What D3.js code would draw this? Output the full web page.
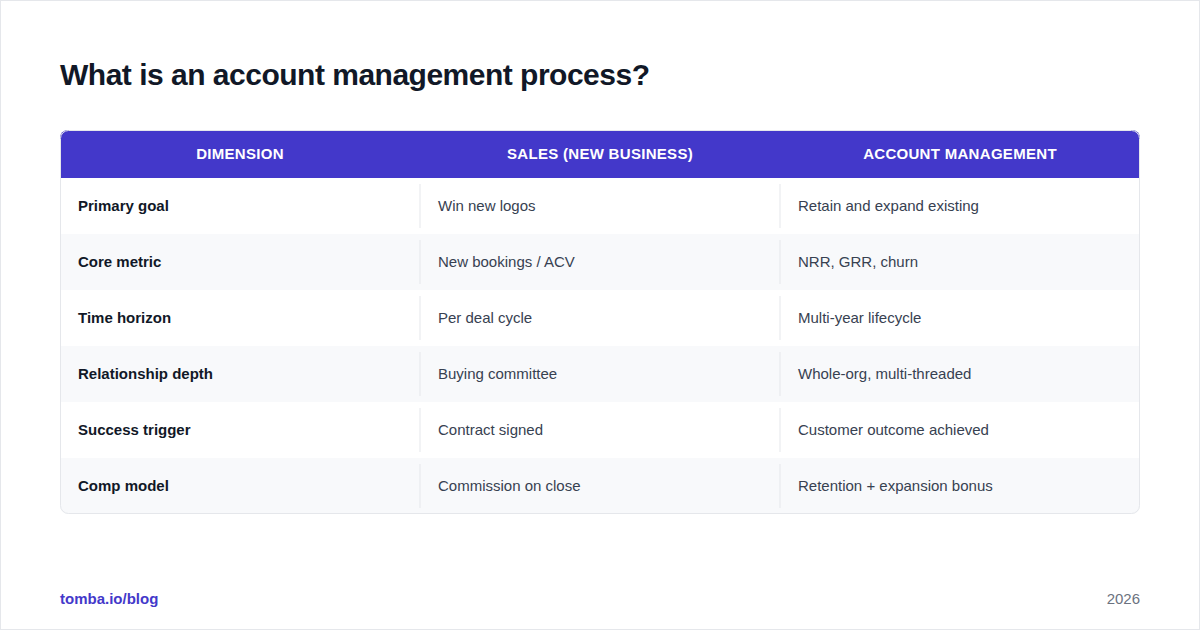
<!DOCTYPE html>
<html><head><meta charset="utf-8">
<script src="https://cdn.jsdelivr.net/npm/d3@7"></script>
<style>body{margin:0;background:#fff}svg{display:block;font-family:"Liberation Sans",Arial,sans-serif}</style>
</head><body>
<svg id="c" width="1200" height="630"></svg>
<script>
const title = "What is an account management process?";
const headers = ["DIMENSION", "SALES (NEW BUSINESS)", "ACCOUNT MANAGEMENT"];
const dimensions = ["Primary goal", "Core metric", "Time horizon", "Relationship depth", "Success trigger", "Comp model"];
const sales = ["Win new logos", "New bookings / ACV", "Per deal cycle", "Buying committee", "Contract signed", "Commission on close"];
const accountMgmt = ["Retain and expand existing", "NRR, GRR, churn", "Multi-year lifecycle", "Whole-org, multi-threaded", "Customer outcome achieved", "Retention + expansion bonus"];

const svg = d3.select("#c");
const W = 1200, H = 630;
const tLeft = 60, tRight = 1140, tTop = 130, headH = 48, rowH = 56;

svg.append("rect").attr("x", 0.5).attr("y", 0.5).attr("width", W - 1).attr("height", H - 1)
  .attr("fill", "#fff").attr("stroke", "#e5e7eb");

svg.append("text").attr("x", tLeft).attr("y", 85).attr("font-size", 30).attr("font-weight", 700)
  .attr("fill", "#111827").attr("letter-spacing", -0.5).text(title);

const x = d3.scaleBand().domain(d3.range(headers.length)).range([tLeft, tRight]);
const y = d3.scaleBand().domain(d3.range(dimensions.length)).range([tTop + headH, tTop + headH + rowH * dimensions.length]);
const tableH = headH + rowH * dimensions.length;

svg.append("defs").append("clipPath").attr("id", "clip").append("rect")
  .attr("x", tLeft).attr("y", tTop).attr("width", tRight - tLeft).attr("height", tableH).attr("rx", 8);

const g = svg.append("g").attr("clip-path", "url(#clip)");
g.append("rect").attr("x", tLeft).attr("y", tTop).attr("width", tRight - tLeft).attr("height", tableH).attr("fill", "#fff");
g.append("rect").attr("x", tLeft).attr("y", tTop).attr("width", tRight - tLeft).attr("height", headH).attr("fill", "#4338ca");

g.selectAll(".hd").data(headers).join("text")
  .attr("x", (d, i) => x(i) + x.bandwidth() / 2).attr("y", tTop + headH / 2 + 5)
  .attr("text-anchor", "middle").attr("fill", "#fff").attr("font-size", 15).attr("font-weight", 700)
  .attr("letter-spacing", 0.3).text(d => d);

const rows = dimensions.map((d, i) => [d, sales[i], accountMgmt[i]]);
const r = g.selectAll(".row").data(rows).join("g").attr("transform", (d, i) => `translate(0,${y(i)})`);
r.append("rect").attr("x", tLeft).attr("width", tRight - tLeft).attr("height", rowH)
  .attr("fill", (d, i) => i % 2 ? "#f8f9fb" : "#fff");
r.selectAll("line").data([1, 2]).join("line")
  .attr("x1", c => x(c)).attr("x2", c => x(c)).attr("y1", 6).attr("y2", rowH - 6)
  .attr("stroke", "#e5e7eb");
r.selectAll("text").data(d => d).join("text")
  .attr("x", (d, i) => x(i) + 18).attr("y", rowH / 2 + 5).attr("font-size", 15)
  .attr("font-weight", (d, i) => i === 0 ? 700 : 400)
  .attr("fill", (d, i) => i === 0 ? "#111827" : "#374151").text(d => d);

svg.append("rect").attr("x", tLeft + 0.5).attr("y", tTop + 0.5).attr("width", tRight - tLeft - 1).attr("height", tableH - 1)
  .attr("rx", 8).attr("fill", "none").attr("stroke", "#e5e7eb");

svg.append("text").attr("x", tLeft).attr("y", 604).attr("font-size", 15).attr("font-weight", 700)
  .attr("fill", "#4338ca").text("tomba.io/blog");
svg.append("text").attr("x", tRight).attr("y", 604).attr("text-anchor", "end").attr("font-size", 15)
  .attr("fill", "#6b7280").text("2026");
</script>
</body></html>
